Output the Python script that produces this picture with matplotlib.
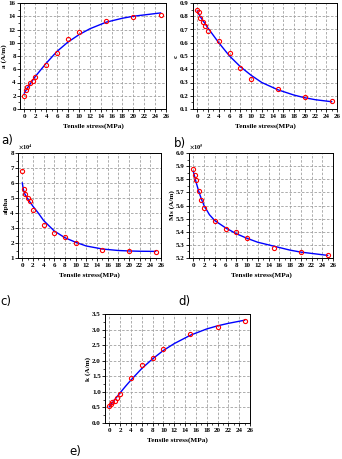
import numpy as np
import matplotlib.pyplot as plt

plt.rcParams['font.family'] = ['Liberation Serif', 'DejaVu Serif']
plt.rcParams['font.weight'] = 'bold'
plt.rcParams['mathtext.fontset'] = 'stix'

# measured points
stress = [0, 0.25, 0.5, 1, 1.5, 2, 4, 6, 8, 10, 15, 20, 25]
a_pts = [2.0, 2.8, 3.3, 4.0, 4.3, 4.8, 6.7, 8.5, 10.5, 11.6, 13.3, 13.9, 14.2]
c_pts = [0.85, 0.83, 0.79, 0.76, 0.73, 0.69, 0.61, 0.52, 0.41, 0.33, 0.25, 0.19, 0.16]
alpha_pts = [6.8, 5.6, 5.3, 5.0, 4.8, 4.2, 3.2, 2.7, 2.4, 2.0, 1.55, 1.5, 1.42]
ms_pts = [5.875, 5.835, 5.795, 5.71, 5.645, 5.58, 5.48, 5.42, 5.395, 5.355, 5.28, 5.245, 5.222]
k_pts = [0.53, 0.62, 0.68, 0.72, 0.80, 0.92, 1.46, 1.86, 2.08, 2.38, 2.86, 3.08, 3.28]

# fitted curves
fit_x = [0, 0.25, 0.5, 1, 1.5, 2, 3, 4, 6, 8, 10, 12, 15, 18, 20, 22, 25]
a_fit = [2.4, 2.75, 3.1, 3.7, 4.3, 4.9, 5.9, 6.9, 8.7, 10.1, 11.2, 12.1, 13.1, 13.7, 14.0, 14.2, 14.5]
c_fit = [0.84, 0.82, 0.80, 0.77, 0.74, 0.71, 0.655, 0.60, 0.50, 0.42, 0.355, 0.30, 0.245, 0.205, 0.185, 0.17, 0.155]
alpha_fit = [6.0, 5.5, 5.25, 4.95, 4.7, 4.45, 4.0, 3.5, 2.8, 2.35, 2.05, 1.8, 1.6, 1.5, 1.47, 1.45, 1.44]
ms_fit = [5.86, 5.82, 5.78, 5.71, 5.65, 5.60, 5.53, 5.485, 5.43, 5.385, 5.35, 5.32, 5.29, 5.26, 5.245, 5.235, 5.22]
k_fit = [0.52, 0.58, 0.64, 0.75, 0.86, 0.97, 1.18, 1.38, 1.75, 2.06, 2.33, 2.55, 2.82, 3.02, 3.12, 3.2, 3.3]

W, H = 342, 459
fig = plt.figure(figsize=(W/100, H/100), dpi=100)

def box(l, r, t, b):
    return [l/W, 1 - b/H, (r - l)/W, (b - t)/H]

panels = [
    (box(20, 166, 3, 109), a_pts, a_fit, 'a (A/m)', (0, 16), 2, None, 'a)', (1, 147)),
    (box(193, 337, 3, 109), c_pts, c_fit, 'c', (0.1, 0.9), 0.1, None, 'b)', (174, 150)),
    (box(18, 161, 153, 258), alpha_pts, alpha_fit, 'alpha', (1, 8), 1, r'$\times$10$^{4}$', 'c)', (0, 308)),
    (box(189, 333, 153, 258), ms_pts, ms_fit, 'Ms (A/m)', (5.2, 6.0), 0.1, r'$\times$10$^{5}$', 'd)', (178, 308)),
    (box(105, 250, 314, 423), k_pts, k_fit, 'k (A/m)', (0, 3.5), 0.5, None, 'e)', (69, 458)),
]

for rect, pts, fit, ylab, ylim, ystep, mult, tag, tagpos in panels:
    ax = fig.add_axes(rect)
    ax.plot(fit_x, fit, '-', color='blue', lw=1.0, zorder=3)
    ax.plot(stress, pts, 'o', mfc='none', mec='red', ms=3, mew=0.8, zorder=4)
    ax.set_xlim(-0.8, 26)
    ax.set_ylim(*ylim)
    ax.set_xticks(np.arange(0, 27, 2))
    ax.set_xticks(np.arange(1, 27, 2), minor=True)
    ax.set_yticks(np.arange(ylim[0], ylim[1] + ystep/2, ystep))
    ax.set_yticks(np.arange(ylim[0] + ystep/2, ylim[1], ystep), minor=True)
    if ystep < 1:
        ax.set_yticklabels(['%.1f' % v for v in np.arange(ylim[0], ylim[1] + ystep/2, ystep)])
    ax.grid(True, which='major', color='#a0a0a0', ls=(0, (3, 2)), lw=0.6)
    ax.tick_params(labelsize=5, length=2, width=0.6, pad=1.5)
    ax.tick_params(axis='y', pad=1)
    ax.tick_params(which='minor', length=1.2, width=0.5)
    for s in ax.spines.values():
        s.set_linewidth(0.7)
    ax.set_xlabel('Tensile stress(MPa)', fontsize=5.2, fontweight='bold', labelpad=3)
    ax.set_ylabel(ylab, fontsize=5.2, fontweight='bold', labelpad=1)
    if mult:
        ax.text(0.0, 1.01, mult, transform=ax.transAxes, fontsize=4.5, va='bottom', ha='left')
    fig.text(tagpos[0]/W, 1 - tagpos[1]/H, tag, fontsize=8.5, family='DejaVu Sans',
             fontweight='normal', ha='left', va='bottom')

fig.savefig('out.png', dpi=100)
